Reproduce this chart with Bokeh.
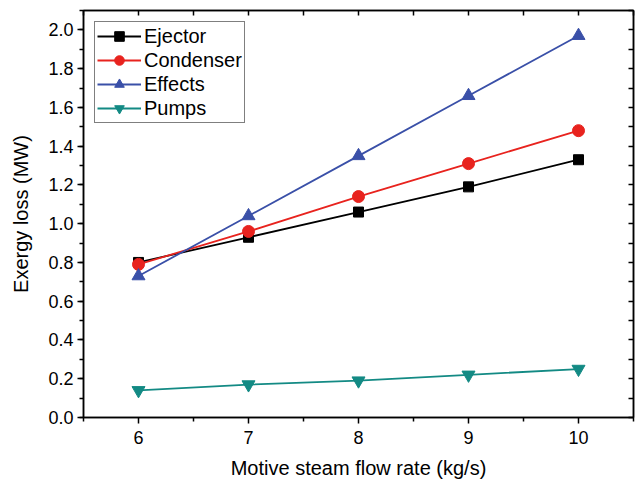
from bokeh.plotting import figure
from bokeh.models import LinearAxis, Range1d, FixedTicker, Legend, LegendItem
from bokeh.embed import file_html
from bokeh.resources import INLINE

x_vals = [6, 7, 8, 9, 10]
ejector = [0.80, 0.93, 1.06, 1.19, 1.33]
condenser = [0.79, 0.96, 1.14, 1.31, 1.48]
effects = [0.73, 1.04, 1.35, 1.66, 1.97]
pumps = [0.14, 0.17, 0.19, 0.22, 0.25]

x_ticks = [6, 7, 8, 9, 10]
x_minor = [5.5, 6.5, 7.5, 8.5, 9.5, 10.5]
y_ticks = [0.0, 0.2, 0.4, 0.6, 0.8, 1.0, 1.2, 1.4, 1.6, 1.8, 2.0]
y_minor = [round(0.1 * i, 1) for i in range(0, 22)]

FONT = "Liberation Sans"

p = figure(width=636, height=485, output_backend="svg", toolbar_location=None,
           x_range=Range1d(5.5, 10.5), y_range=Range1d(0, 2.1),
           min_border_left=83, min_border_right=3, min_border_top=10, min_border_bottom=68)
p.xgrid.visible = False
p.ygrid.visible = False
p.outline_line_color = "black"
p.outline_line_width = 1.5
p.background_fill_color = "white"
p.border_fill_color = "white"

def style_common(ax):
    ax.axis_line_color = "black"
    ax.axis_line_width = 1.5
    ax.major_tick_line_width = 1.5
    ax.minor_tick_line_width = 1.5
    ax.major_tick_line_color = "black"
    ax.minor_tick_line_color = "black"

xa = p.xaxis[0]
ya = p.yaxis[0]
for ax, ticks, minor in ((xa, x_ticks, x_minor), (ya, y_ticks, y_minor)):
    style_common(ax)
    ax.ticker = FixedTicker(ticks=ticks, minor_ticks=minor)
    ax.major_tick_out = 6
    ax.major_tick_in = 0
    ax.minor_tick_out = 4
    ax.minor_tick_in = 0
    ax.major_label_text_font = FONT
    ax.major_label_text_font_size = "18px"
    ax.major_label_text_color = "black"
    ax.axis_label_text_font = FONT
    ax.axis_label_text_font_size = "20px"
    ax.axis_label_text_font_style = "normal"
    ax.axis_label_text_color = "black"

xa.axis_label = "Motive steam flow rate (kg/s)"
ya.axis_label = "Exergy loss (MW)"
xa.major_label_overrides = {t: str(t) for t in x_ticks}
ya.major_label_overrides = {t: f"{t:.1f}" for t in y_ticks}
xa.axis_label_standoff = 10
ya.axis_label_standoff = 13
xa.major_label_standoff = 7
ya.major_label_standoff = 4

# mirrored top/right axes: inward ticks only, no labels
top = LinearAxis()
right = LinearAxis()
for ax, ticks, minor in ((top, x_ticks, x_minor), (right, y_ticks, y_minor)):
    style_common(ax)
    ax.ticker = FixedTicker(ticks=[], minor_ticks=sorted(set(ticks) | set(minor)))
    ax.minor_tick_out = 0
    ax.minor_tick_in = 5
    ax.major_tick_out = 0
    ax.major_tick_in = 0
p.add_layout(top, "above")
p.add_layout(right, "right")

series = [
    ("Ejector", ejector, "black", "square", 10),
    ("Condenser", condenser, "#e8231e", "circle", 12),
    ("Effects", effects, "#3a50a8", "triangle", 13),
    ("Pumps", pumps, "#138a84", "inverted_triangle", 13),
]
items = []
for name, ys, color, marker, size in series:
    l = p.line(x_vals, ys, line_color=color, line_width=1.8)
    m = p.scatter(x_vals, ys, marker=marker, size=size, fill_color=color, line_color=color)
    items.append(LegendItem(label=name, renderers=[l, m]))

legend = Legend(items=items, location="top_left", margin=11, padding=2, spacing=0,
                label_text_font=FONT, label_text_font_size="20px", label_text_color="black",
                glyph_width=44, glyph_height=24, label_standoff=3, label_height=24,
                border_line_color="black", border_line_width=1.2,
                background_fill_alpha=1.0)
p.add_layout(legend, "center")

open("out.html", "w").write(file_html(p, INLINE))
